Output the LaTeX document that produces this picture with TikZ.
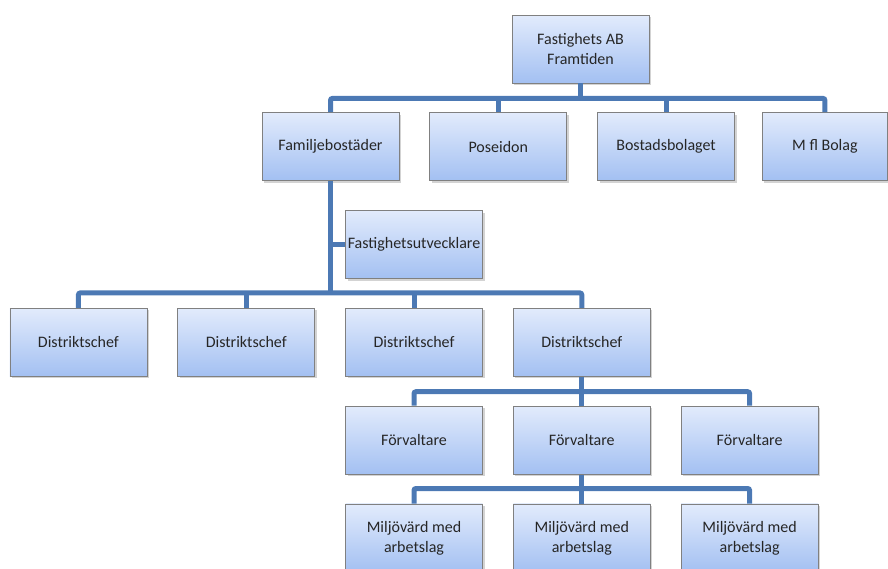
\documentclass[tikz,border=0pt]{standalone}
\usepackage{fontspec}
\setmainfont{Carlito}
\usetikzlibrary{positioning, shadows, calc}

\definecolor{boxtop}{RGB}{226,235,252}
\definecolor{boxbottom}{RGB}{163,192,242}
\definecolor{boxline}{RGB}{128,128,128}
\definecolor{busblue}{RGB}{76,121,180}

\begin{document}
\begin{tikzpicture}[x=1pt, y=-1pt]
			\tikzset {node distance=29pt and 30pt,
				unit/.style={draw=boxline, line width=0.8pt, top color=boxtop, bottom color=boxbottom,
					minimum width=137pt, minimum height=68pt, inner sep=0pt, align=center,
					text=black!85, font=\fontsize{16}{20}\selectfont,
					drop shadow={shadow xshift=2pt, shadow yshift=-2pt, opacity=0.35}},
				bus/.style={draw=busblue, line width=5pt, rounded corners=2pt}}
			\useasboundingbox (0,0) rectangle (888,568);

			\node[unit] (top) at (580.5,49) {Fastighets AB\\Framtiden};
			\node[unit] (fam) at (330.5,146.5) {Familjebost\"ader};
			\node[unit, right=of fam] (pos) {Poseidon};
			\node[unit, right=of pos] (bos) {Bostadsbolaget};
			\node[unit, minimum width=125pt, right=of bos, xshift=-3pt] (mfl) {M fl Bolag};

			\node[unit] (utv) at (414,244.5) {Fastighetsutvecklare};

			\node[unit, below=of utv] (d3) {Distriktschef};
			\node[unit, left=of d3] (d2) {Distriktschef};
			\node[unit, left=of d2] (d1) {Distriktschef};
			\node[unit, right=of d3] (d4) {Distriktschef};

			\node[unit, below=of d4] (f2) {F\"orvaltare};
			\node[unit, left=of f2] (f1) {F\"orvaltare};
			\node[unit, right=of f2] (f3) {F\"orvaltare};

			\node[unit, below=of f2] (m2) {Milj\"ov\"ard med\\arbetslag};
			\node[unit, left=of m2] (m1) {Milj\"ov\"ard med\\arbetslag};
			\node[unit, right=of m2] (m3) {Milj\"ov\"ard med\\arbetslag};

			\coordinate (bolag) at ($(top.south)+(0,15)$);
			\coordinate (distr) at ($(fam.south)+(0,112)$);
			\coordinate (forv) at ($(d4.south)+(0,15)$);
			\coordinate (milj) at ($(f2.south)+(0,14)$);

			\draw[bus] (fam.north) |- (bolag) -| (mfl.north);
			\draw[bus] (top.south) -- (bolag);
			\draw[bus] (pos.north) -- (pos.north |- bolag);
			\draw[bus] (bos.north) -- (bos.north |- bolag);

			\draw[bus] (fam.south) -- (distr);
			\draw[bus] (utv.west) -- (utv.west -| fam.south);
			\draw[bus] (d1.north) |- (distr) -| (d4.north);
			\draw[bus] (d2.north) -- (d2.north |- distr);
			\draw[bus] (d3.north) -- (d3.north |- distr);

			\draw[bus] (d4.south) -- (forv);
			\draw[bus] (f1.north) |- (forv) -| (f3.north);
			\draw[bus] (f2.north) -- (forv);

			\draw[bus] (f2.south) -- (milj);
			\draw[bus] (m1.north) |- (milj) -| (m3.north);
			\draw[bus] (m2.north) -- (milj);
		\end{tikzpicture}
\end{document}
